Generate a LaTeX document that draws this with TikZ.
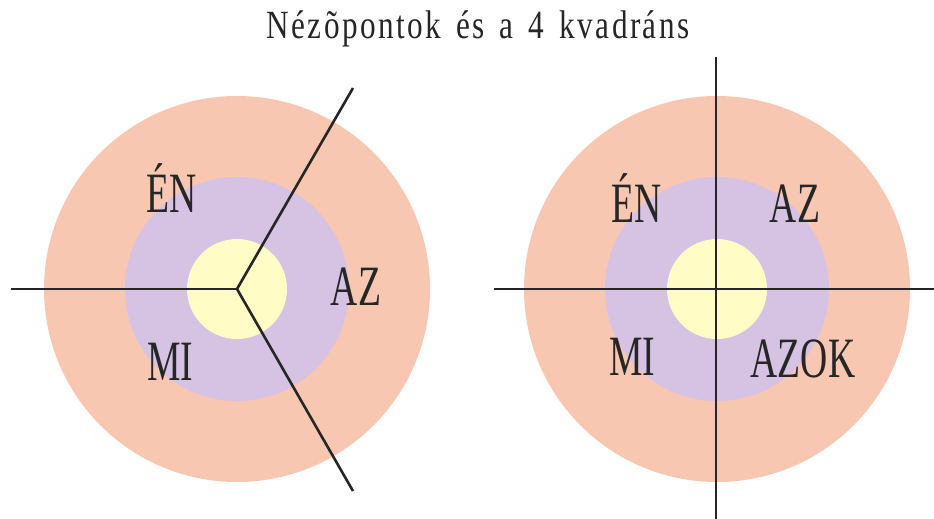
\documentclass[tikz,border=0pt]{standalone}
\usepackage{fontspec}
\setmainfont{Liberation Serif}
\newfontfamily\labelfont[FakeStretch=0.66]{Liberation Serif}
\newfontfamily\titlefont[FakeStretch=0.78,LetterSpace=6,WordSpace=1.5]{Liberation Serif}
\usepackage{tikz}
\usepackage{xcolor}
\definecolor{ringout}{RGB}{248,199,177}
\definecolor{ringmid}{RGB}{214,194,227}
\definecolor{ringin}{RGB}{255,252,198}

\begin{document}
\begin{tikzpicture}[
  x=1pt, y=-1pt,
  font=\labelfont\fontsize{57}{60}\selectfont,
  lbl/.style={anchor=base, inner sep=0pt, text=black!85},
  axis/.style={line width=2.6pt, black!85},
]
  \useasboundingbox (0,0) rectangle (934,519);

  % left: three sectors
  \coordinate (cL) at (237,289);
  \fill[ringout] (cL) circle (193);
  \fill[ringmid] (cL) circle (112);
  \fill[ringin] (cL) circle (50);
  \coordinate (lW) at (11,289);
  \coordinate (lNE) at (353,88);
  \coordinate (lSE) at (353,491);
  \draw[axis] (lW) -- (cL);
  \draw[axis] (lNE) -- (cL) -- (lSE);
  \node[lbl] (enL) at (172,212) {ÉN};
  \node[lbl] (azL) at (356,305) {AZ};
  \node[lbl] (miL) at (170,380) {MI};

  % right: four quadrants
  \coordinate (cR) at (717,289);
  \fill[ringout] (cR) circle (193);
  \fill[ringmid] (cR) circle (112);
  \fill[ringin] (cR) circle (50);
  \coordinate (rW) at (494,289);
  \coordinate (rE) at (934,289);
  \coordinate (rN) at (716,57);
  \coordinate (rS) at (716,519);
  \draw[axis] (rW) -- (rE);
  \draw[axis] (rN) -- (rS);
  \node[lbl] (enR) at (637,222) {ÉN};
  \node[lbl] (azR) at (795,222) {AZ};
  \node[lbl] (miR) at (632,375) {MI};
  \node[lbl] (azokR) at (803,377) {AZOK};

  \node[lbl, font=\titlefont\fontsize{40}{44}\selectfont] (title) at (478,39)
    {Nézõpontok és a 4 kvadráns};
\end{tikzpicture}
\end{document}
